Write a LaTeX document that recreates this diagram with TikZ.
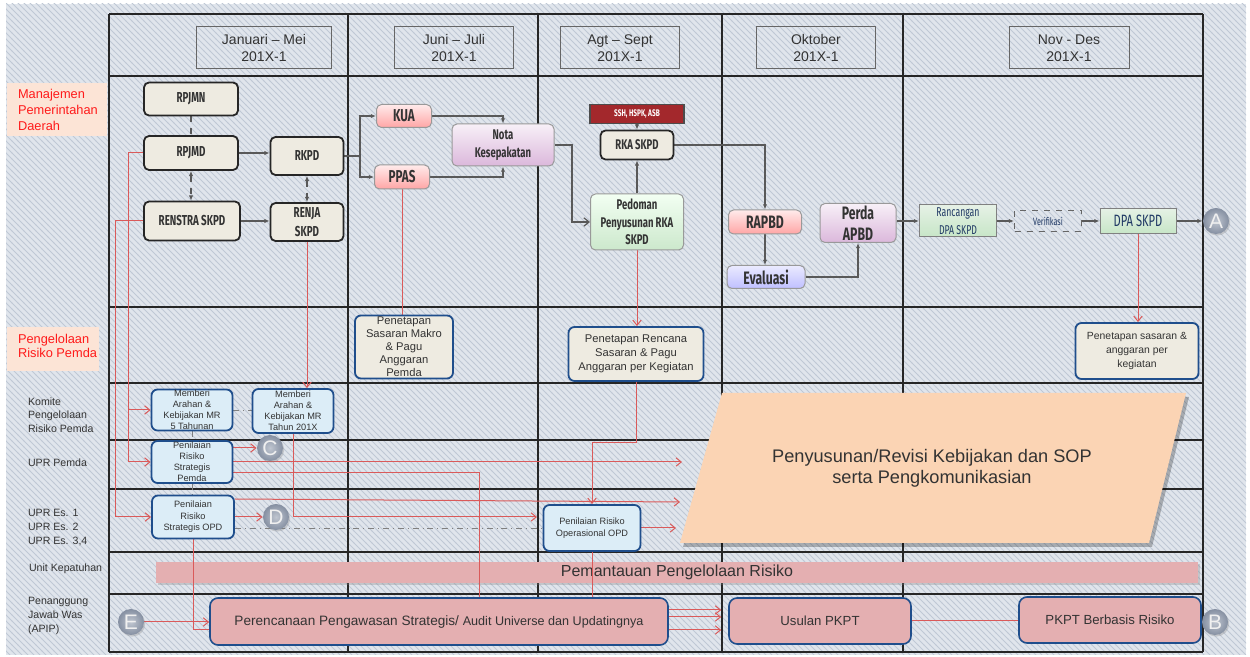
\documentclass[tikz,border=0pt]{standalone}
\usepackage{fontspec}
\setmainfont{Liberation Sans}
\newfontfamily\condf[FakeStretch=0.68]{Fira Sans}
\usetikzlibrary{arrows.meta,shadows,patterns,calc}

\definecolor{bgc}{HTML}{E0E5EC}
\definecolor{stripe}{HTML}{BFC8D5}
\definecolor{tan}{HTML}{EEEBE1}
\definecolor{navy}{HTML}{1F4E8C}
\definecolor{lblue}{HTML}{DCEDF7}
\definecolor{rose}{HTML}{E4AFB1}
\definecolor{peach}{HTML}{FBD4B4}
\definecolor{lpeach}{HTML}{FCE4D6}
\definecolor{redc}{HTML}{DA5A5A}
\definecolor{ink}{HTML}{333333}
\definecolor{darkblue}{HTML}{1F3864}
\definecolor{sshred}{HTML}{A3282C}
\definecolor{labred}{HTML}{FF1A1A}
\definecolor{markgray}{HTML}{8C97AA}

\pgfdeclarelayer{bg}
\pgfdeclarelayer{wires}
\pgfsetlayers{bg,wires,main}

\tikzset{
  tabline/.style={line width=1.1pt, draw=black!85},
  hdr/.style={draw=black!60, line width=0.5pt, minimum height=21pt, inner sep=0pt,
    align=center, font=\fontsize{7}{8.5}\selectfont, text=black!80},
  plan/.style={rounded corners=2.5pt, draw=black!85, line width=0.9pt, fill=tan,
    inner sep=0pt, align=center, text=ink, font=\condf\bfseries\fontsize{7.2}{9.5}\selectfont},
  gbox/.style={rounded corners=2.5pt, draw=black!40, line width=0.5pt, inner sep=0pt,
    align=center, text=ink, font=\condf\bfseries\fontsize{7}{9}\selectfont},
  pinkbox/.style={gbox, top color=red!8, bottom color=red!35!white},
  purplebox/.style={gbox, top color=violet!6, bottom color=violet!28!white},
  greenbox/.style={gbox, top color=green!5!white, bottom color=green!55!black!20!white},
  evalbox/.style={gbox, top color=blue!8, bottom color=blue!25!white},
  dpabox/.style={draw=black!50, line width=0.5pt, top color=green!45!black!10!white,
    bottom color=green!55!black!22!white, inner sep=0pt, align=center, text=darkblue,
    font=\condf\fontsize{6.4}{9}\selectfont},
  verifbox/.style={draw=black!60, dashed, line width=0.5pt, inner sep=0pt, align=center,
    text=darkblue, font=\condf\fontsize{5.3}{6}\selectfont, minimum width=33.5pt, minimum height=10.5pt},
  sshbox/.style={draw=black!70, fill=sshred, line width=0.6pt, inner sep=0pt, text=white,
    font=\condf\bfseries\fontsize{4.8}{5}\selectfont, minimum width=47pt, minimum height=9.5pt},
  riskbox/.style={rounded corners=3pt, draw=navy, line width=0.9pt, fill=lblue, inner sep=0pt,
    align=center, text=ink, font=\fontsize{4.6}{5.5}\selectfont},
  setbox/.style={riskbox, fill=tan, font=\fontsize{5.6}{6.6}\selectfont},
  was/.style={rounded corners=4pt, draw=navy, line width=0.8pt, fill=rose, inner sep=0pt,
    align=center, text=ink, font=\fontsize{6.6}{8}\selectfont},
  ballmark/.style={circle, minimum size=13pt, inner sep=0pt,
    inner color=markgray!55!white, outer color=markgray!95!black,
    text=white!94!black, font=\fontsize{10.5}{10.5}\selectfont,
    drop shadow={opacity=0.3, shadow xshift=0.6pt, shadow yshift=-0.8pt}},
  lanelabel/.style={anchor=west, align=left, text=ink, font=\fontsize{5.3}{6.8}\selectfont},
  redlabel/.style={anchor=west, align=left, text=labred, font=\fontsize{6.4}{7.8}\selectfont},
  gline/.style={draw=black!65, line width=0.6pt},
  garrow/.style={gline, -{Latex[length=2.6pt,width=2.2pt]}},
  gdouble/.style={gline, dashed, {Latex[length=2.6pt,width=2.2pt]}-{Latex[length=2.6pt,width=2.2pt]}},
  thindash/.style={draw=black!50, line width=0.4pt, dash dot},
  rline/.style={draw=redc, line width=0.5pt},
  rarrow/.style={rline, -{Straight Barb[length=2.6pt,width=4.2pt]}},
}

\begin{document}
\begin{tikzpicture}[x=0.5pt, y=-0.5pt]
\useasboundingbox (0,0) rectangle (1250,657);

% ---------- nodes ----------
% period headers
\node[hdr, minimum width=67.5pt] (hJan) at (264,48) {Januari – Mei\\201X-1};
\node[hdr, minimum width=59.5pt] (hJun) at (454,48) {Juni – Juli\\201X-1};
\node[hdr, minimum width=59.5pt] (hAgt) at (620,48) {Agt – Sept\\201X-1};
\node[hdr, minimum width=59.5pt] (hOkt) at (816,48) {Oktober\\201X-1};
\node[hdr, minimum width=60pt]   (hNov) at (1069,48) {Nov - Des\\201X-1};

% lane labels
\node[redlabel] (lMan) at (11,110) {Manajemen\\Pemerintahan\\Daerah};
\node[redlabel, font=\fontsize{6.4}{7.2}\selectfont] (lPeng) at (11,346) {Pengelolaan\\Risiko Pemda};
\node[lanelabel] (lKom) at (21,415) {Komite\\Pengelolaan\\Risiko Pemda};
\node[lanelabel] (lUpr) at (21,463) {UPR Pemda};
\node[lanelabel, font=\fontsize{5.3}{7}\selectfont] (lEs) at (21,528) {UPR Es. 1\\UPR Es. 2\\UPR Es. 3,4};
\node[lanelabel] (lKep) at (22,569) {Unit Kepatuhan};
\node[lanelabel] (lApip) at (21,616) {Penanggung\\Jawab Was\\(APIP)};

% planning and budgeting flow
\node[plan, minimum width=47pt, minimum height=16.5pt] (rpjmn) at (191,99) {RPJMN};
\node[plan, minimum width=47pt, minimum height=17pt] (rpjmd) at (191,153) {RPJMD};
\node[plan, minimum width=36.5pt, minimum height=19pt] (rkpd) at (307,156) {RKPD};
\node[plan, minimum width=48pt, minimum height=19.5pt] (renstra) at (192,221) {RENSTRA SKPD};
\node[plan, minimum width=36.5pt, minimum height=19pt] (renja) at (307,222) {RENJA\\SKPD};
\node[pinkbox, minimum width=27.5pt, minimum height=11.5pt, font=\condf\bfseries\fontsize{8.6}{9}\selectfont] (kua) at (404,116) {KUA};
\node[pinkbox, minimum width=27.5pt, minimum height=12pt, font=\condf\bfseries\fontsize{8.6}{9}\selectfont] (ppas) at (402,177) {PPAS};
\node[purplebox, minimum width=51pt, minimum height=21pt] (nota) at (503,145) {Nota\\Kesepakatan};
\node[sshbox] (ssh) at (637,114) {SSH, HSPK, ASB};
\node[plan, minimum width=36.5pt, minimum height=14.5pt, font=\condf\bfseries\fontsize{7}{8}\selectfont] (rka) at (637,145) {RKA SKPD};
\node[greenbox, minimum width=46.5pt, minimum height=28pt, font=\condf\bfseries\fontsize{7}{8.7}\selectfont] (pedoman) at (637,222) {Pedoman\\Penyusunan RKA\\SKPD};
\node[pinkbox, minimum width=36.5pt, minimum height=12pt, font=\condf\bfseries\fontsize{9}{9}\selectfont] (rapbd) at (765,222) {RAPBD};
\node[evalbox, minimum width=39pt, minimum height=11.5pt, font=\condf\bfseries\fontsize{9}{9}\selectfont] (evaluasi) at (766,277) {Evaluasi};
\node[purplebox, minimum width=38pt, minimum height=19.5pt, font=\condf\bfseries\fontsize{9}{10.5}\selectfont] (perda) at (858,223) {Perda\\APBD};
\node[dpabox, minimum width=38.5pt, minimum height=16pt] (ranc) at (958,221) {Rancangan\\DPA SKPD};
\node[verifbox] (verif) at (1048,221) {Verifikasi};
\node[dpabox, minimum width=38pt, minimum height=12.5pt, font=\condf\fontsize{8.2}{9}\selectfont] (dpa) at (1138,221) {DPA SKPD};
\node[ballmark] (ballA) at (1216,221) {A};

% risk management targets
\node[setbox, minimum width=49pt, minimum height=31.5pt, font=\fontsize{5.6}{6.5}\selectfont] (makro) at (404,347) {Penetapan\\Sasaran Makro\\\& Pagu\\Anggaran\\Pemda};
\node[setbox, minimum width=67.5pt, minimum height=27pt, font=\fontsize{5.6}{7}\selectfont] (rencana) at (636,354) {Penetapan Rencana\\Sasaran \& Pagu\\Anggaran per Kegiatan};
\node[setbox, minimum width=61.5pt, minimum height=28pt, font=\fontsize{5.2}{6.8}\selectfont] (sasaran) at (1137,351) {Penetapan sasaran \&\\anggaran per\\kegiatan};

% committee and risk owner units
\node[riskbox, minimum width=40.5pt, minimum height=20.5pt] (mr5) at (192,410) {Memberi\\Arahan \&\\Kebijakan MR\\5 Tahunan};
\node[riskbox, minimum width=40.5pt, minimum height=22pt] (mr201x) at (293,411) {Memberi\\Arahan \&\\Kebijakan MR\\Tahun 201X};
\node[riskbox, minimum width=40.5pt, minimum height=21pt] (pemda) at (192,462) {Penilaian\\Risiko\\Strategis\\Pemda};
\node[ballmark] (ballC) at (270,448) {C};
\node[riskbox, minimum width=41pt, minimum height=21.5pt, font=\fontsize{4.6}{5.8}\selectfont] (opd) at (193,517) {Penilaian\\Risiko\\Strategis OPD};
\node[ballmark] (ballD) at (276,517) {D};
\node[riskbox, minimum width=48.5pt, minimum height=23pt, font=\fontsize{4.6}{6}\selectfont] (oper) at (592,528) {Penilaian Risiko\\Operasional OPD};

% internal audit planning
\node[was, minimum width=229pt, minimum height=23.5pt] (renc) at (439,621.5)
  {\fontsize{6.8}{8}\selectfont Perencanaan Pengawasan Strategis/ \fontsize{6.3}{8}\selectfont Audit Universe dan Updatingnya};
\node[was, minimum width=91pt, minimum height=23pt] (usulan) at (820,621) {Usulan PKPT};
\node[was, minimum width=91pt, minimum height=23pt] (pkpt) at (1110,620) {PKPT Berbasis Risiko};
\node[ballmark] (ballB) at (1215,622) {B};
\node[ballmark] (ballE) at (131,622) {E};

% ---------- background, table, wide bands ----------
\begin{pgfonlayer}{bg}
  \fill[white] (0,0) rectangle (1250,657);
  \fill[bgc] (6,4) rectangle (1246,655);
  \fill[pattern=north west lines, pattern color=stripe] (6,4) rectangle (1246,655);
  \fill[lpeach] (7,83) rectangle (107,136);
  \fill[lpeach] (7,327) rectangle (99,371);
  % lanes
  \foreach \yy in {14,76,307,383,440,489,552,594,652}
    \draw[tabline] (109,\yy) -- (1203,\yy);
  \foreach \xx in {109,348,538,722,903,1203}
    \draw[tabline] (\xx,14) -- (\xx,652);
  % policy band
  \fill[black, opacity=0.25] (725,397) -- (1189,397) -- (1152,547) -- (683,547) -- cycle;
  \fill[peach] (722,393) -- (1186,393) -- (1149,543) -- (680,543) -- cycle;
  \node[text=ink, align=center, font=\fontsize{9.1}{10.6}\selectfont] (sop) at (932,468)
    {Penyusunan/Revisi Kebijakan dan SOP\\serta Pengkomunikasian};
  % monitoring band
  \node[fill=rose, minimum width=521pt, minimum height=10.5pt, inner sep=0pt, text=ink,
    font=\fontsize{8}{9}\selectfont, drop shadow={opacity=0.3, shadow xshift=1pt, shadow yshift=-1.2pt}]
    (pantau) at (677,572.5) {Pemantauan Pengelolaan Risiko};
\end{pgfonlayer}

% ---------- connectors ----------
\begin{pgfonlayer}{wires}
  % planning documents
  \draw[gline, dashed] (rpjmn.south) -- (rpjmd.north);
  \draw[gdouble] (rpjmd.south) -- (rpjmd.south |- renstra.north);
  \draw[gdouble] (rkpd.south) -- (rkpd.south |- renja.north);
  \draw[garrow] (rpjmd.east) -- (rpjmd.east -| rkpd.west);
  \draw[garrow] (renstra.east) -- (renstra.east -| renja.west);
  \coordinate (fork) at (360,156);
  \draw[gline] (rkpd.east) -- (fork);
  \draw[garrow] (fork) |- (kua.west);
  \draw[garrow] (fork) |- (ppas.west);
  \draw[garrow] (kua.east) -| (nota.north);
  \draw[garrow] (ppas.east) -| (nota.south);
  \coordinate (notaBend) at (572,145);
  \draw[gline, -{Straight Barb[length=2.6pt,width=4.2pt]}] (nota.east) -- (notaBend) |- (pedoman.west);
  \draw[garrow] (ssh.south) -- (rka.north);
  \draw[garrow] (pedoman.north) -- (rka.south);
  \draw[garrow] (rka.east) -| (rapbd.north);
  \draw[garrow] (rapbd.south) -- (rapbd.south |- evaluasi.north);
  \draw[garrow] (evaluasi.east) -| (perda.south);
  \draw[garrow] (perda.east |- ranc.west) -- (ranc.west);
  \draw[garrow] (ranc.east) -- (verif.west);
  \draw[garrow] (verif.east) -- (dpa.west);
  \draw[garrow] (dpa.east) -- (ballA.west);

  % planning into risk management
  \draw[rline] (ppas.south) -- (ppas.south |- makro.north);
  \draw[rarrow] (pedoman.south) -- (pedoman.south |- rencana.north);
  \draw[rarrow] (dpa.south) -- (dpa.south |- sasaran.north);
  \draw[rarrow] (renja.south) -- (renja.south |- mr201x.north);
  \coordinate (trunkA) at (128,153);
  \coordinate (tapA) at (128,410);
  \draw[rline] (rpjmd.west) -- (trunkA);
  \draw[rarrow] (trunkA) |- (pemda.west);
  \draw[rarrow] (tapA) -- (tapA -| mr5.west);
  \coordinate (trunkB) at (115,221);
  \draw[rline] (renstra.west) -- (trunkB);
  \draw[rarrow] (trunkB) |- (opd.west);

  % committee and units
  \draw[thindash] (mr5.east) -- (mr5.east -| mr201x.west);
  \draw[thindash] (mr5.south) -- (mr5.south |- pemda.north);
  \draw[thindash] (pemda.south) -- (pemda.south |- opd.north);
  \coordinate (operTipA) at (537,517);
  \draw[rarrow] (mr201x.south) |- (operTipA);
  \draw[rarrow] (pemda.east |- ballC.west) -- (ballC.west);
  \coordinate (pemdaTip) at (682,462);
  \draw[rarrow] (pemda.east) -- (pemdaTip);
  \coordinate (wasInA) at (479,598);
  \draw[rline] ([yshift=-5.5pt]pemda.east) -| (wasInA);
  \draw[rarrow] (opd.east) -- (ballD.west);
  \coordinate (opdTip) at (680,502);
  \draw[rarrow] ([yshift=9pt]opd.east) -- (opdTip);
  \draw[thindash] (opd.east |- oper.west) -- (oper.west);
  \coordinate (wasInB) at (210,630);
  \draw[rline] (opd.south) |- (wasInB);
  \draw[rarrow] (ballE.east) -- (ballE.east -| renc.west);
  \coordinate (rencBend) at (636,443);
  \draw[rarrow] (rencana.south) -- (rencBend) -| (oper.north);
  \coordinate (operTipB) at (676,528);
  \draw[rarrow] (oper.east) -- (operTipB);
  \draw[rline] (oper.south) -- (oper.south |- renc.north);

  % audit planning
  \foreach \dy in {5.75,2.25,-4.25}
    \draw[rarrow] ($(renc.east)+(0,\dy pt)$) -- ($(renc.east -| usulan.west)+(-3.5pt,\dy pt)$);
  \draw[rline] (usulan.east) -- (usulan.east -| pkpt.west);
\end{pgfonlayer}
\end{tikzpicture}
\end{document}
